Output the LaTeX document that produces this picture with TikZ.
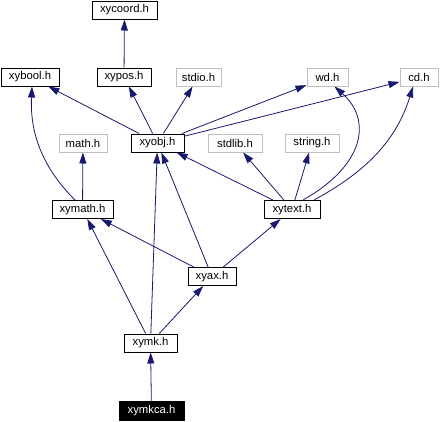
\documentclass[tikz,border=0pt]{standalone}
\usepackage{fontspec}
\setmainfont{Liberation Sans}
\usetikzlibrary{arrows.meta}
\definecolor{edgeblue}{HTML}{191970}
\definecolor{boxgray}{HTML}{BFBFBF}
\begin{document}
\begin{tikzpicture}[x=1pt,y=-1pt,
  hbox/.style={draw=black,line width=1pt,fill=white,minimum height=18pt,inner sep=0pt,font=\fontsize{11.3}{13}\selectfont},
  gbox/.style={hbox,draw=boxgray},
  rootbox/.style={hbox,fill=black,text=white,minimum height=19pt},
  dep/.style={draw=edgeblue,line width=0.8pt,-{Triangle[length=11pt,width=7pt]}}]
\useasboundingbox[fill=white] (0,0) rectangle (442,421);
% nodes
\node[hbox,minimum width=65pt] (xycoord) at (124.5,10) {xycoord.h};
\node[hbox,minimum width=58pt] (xybool) at (30,77) {xybool.h};
\node[hbox,minimum width=54pt] (xypos) at (124,77) {xypos.h};
\node[gbox,minimum width=45pt] (stdio) at (198.5,77) {stdio.h};
\node[gbox,minimum width=41pt] (wd) at (327.5,77) {wd.h};
\node[gbox,minimum width=38pt] (cd) at (419,77) {cd.h};
\node[gbox,minimum width=48pt] (math) at (83,143) {math.h};
\node[hbox,minimum width=53pt] (xyobj) at (157.5,143) {xyobj.h};
\node[gbox,minimum width=54pt] (stdlib) at (235,143) {stdlib.h};
\node[gbox,minimum width=54pt] (string) at (312,143) {string.h};
\node[hbox,minimum width=61pt] (xymath) at (82.5,209.5) {xymath.h};
\node[hbox,minimum width=56pt] (xytext) at (292,209.5) {xytext.h};
\node[hbox,minimum width=48pt] (xyax) at (212,276.5) {xyax.h};
\node[hbox,minimum width=53pt] (xymk) at (150.5,343) {xymk.h};
\node[rootbox,minimum width=65pt] (xymkca) at (151.5,410.5) {xymkca.h};
% edges
\draw[dep] (xypos) -- (xycoord);
\draw[dep] (xyobj) -- (xybool);
\draw[dep] (xyobj) -- (xypos);
\draw[dep] (xyobj) -- (stdio);
\draw[dep] (xyobj) -- (wd);
\draw[dep] (xyobj) -- (cd);
\draw[dep] (xymath) -- (math);
\draw[dep] ([xshift=-7.5pt]xymath.north) .. controls (40,165) and (30,130) .. ([xshift=2pt]xybool.south);
\draw[dep] (xytext) -- (xyobj);
\draw[dep] (xytext) -- (stdlib);
\draw[dep] (xytext) -- (string);
\draw[dep] ([xshift=11pt]xytext.north) .. controls (365,165) and (372,120) .. ([xshift=7pt]wd.south);
\draw[dep] ([xshift=22pt]xytext.north) .. controls (360,175) and (395,145) .. ([xshift=-6pt]cd.south);
\draw[dep] (xyax) -- (xymath);
\draw[dep] (xyax) -- (xyobj);
\draw[dep] (xyax) -- (xytext);
\draw[dep] (xymk) -- (xymath);
\draw[dep] (xymk) -- (xyobj);
\draw[dep] (xymk) -- (xyax);
\draw[dep] (xymkca) -- (xymk);
\end{tikzpicture}
\end{document}
